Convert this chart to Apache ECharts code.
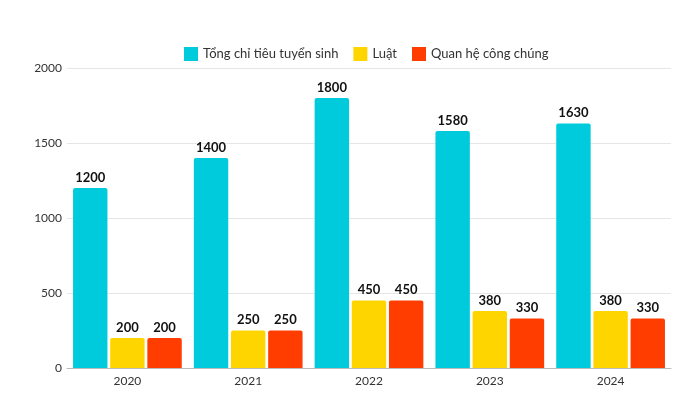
<!DOCTYPE html>
<html><head><meta charset="utf-8">
<script src="https://cdn.jsdelivr.net/npm/echarts@6/dist/echarts.min.js"></script>
<style>html,body{margin:0;padding:0;background:#fff}#c{width:700px;height:394px}</style>
</head><body><div id="c"></div>
<script>
const categories = ['2020','2021','2022','2023','2024'];
const seriesNames = ['Tổng chỉ tiêu tuyển sinh','Luật','Quan hệ công chúng'];
const tong = [1200,1400,1800,1580,1630];
const luat = [200,250,450,380,380];
const qhcc = [200,250,450,330,330];
const yTicks = [0,500,1000,1500,2000];
const colors = ['#00CBDC','#FFD500','#FF3D00'];
const font = 'Lato, "Open Sans", sans-serif';
const chart = echarts.init(document.getElementById('c'));
const mk = (name, data, color) => ({
  name, type:'bar', data, barGap:'8%', barCategoryGap:'10%',
  itemStyle:{color, borderRadius:[2,2,0,0]},
  label:{show:true, position:'top', distance:4, color:'#111', fontWeight:'bold', fontSize:13, fontFamily:font}
});
chart.setOption({
  animation:false,
  textStyle:{fontFamily:font},
  legend:{top:42, left:179, itemWidth:14, itemHeight:14, itemGap:15, icon:'rect',
    textStyle:{fontSize:13, color:'#333', fontFamily:font}, data:seriesNames},
  grid:{left:67, right:29, top:68, bottom:26},
  xAxis:{type:'category', data:categories,
    axisLine:{lineStyle:{color:'#bbb'}}, axisTick:{show:false},
    axisLabel:{color:'#333', fontSize:12, margin:7, fontFamily:font}},
  yAxis:{type:'value', min:yTicks[0], max:yTicks[yTicks.length-1], interval:500,
    axisLine:{show:false}, axisTick:{show:false},
    axisLabel:{color:'#333', fontSize:12, margin:5, fontFamily:font, formatter:v=>String(v)},
    splitLine:{lineStyle:{color:'#e6e6e6'}}},
  series:[mk(seriesNames[0],tong,colors[0]), mk(seriesNames[1],luat,colors[1]), mk(seriesNames[2],qhcc,colors[2])]
});
</script></body></html>
